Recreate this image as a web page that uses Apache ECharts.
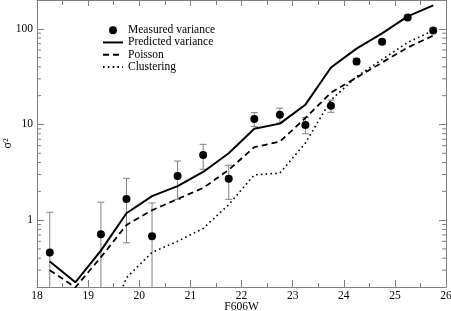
<!DOCTYPE html>
<html>
<head>
<meta charset="utf-8">
<script src="https://cdn.jsdelivr.net/npm/echarts@6/dist/echarts.min.js"></script>
<style>
html,body{margin:0;padding:0;background:#fff;}
#chart{width:451px;height:311px;}
</style>
</head>
<body>
<div id="chart"></div>
<script>
// ---- data ----
const modelX = [18.25, 18.75, 19.25, 19.75, 20.25, 20.75, 21.25, 21.75, 22.25, 22.75, 23.25, 23.75, 24.25, 24.75, 25.25, 25.75];
const predicted = [0.37, 0.224, 0.48, 1.18, 1.78, 2.27, 3.19, 5.0, 9.0, 10.2, 16.1, 39.4, 62, 89.6, 135, 176];
const poisson = [0.30, 0.198, 0.41, 0.89, 1.27, 1.66, 2.17, 3.35, 5.8, 6.6, 11.7, 21.5, 30.9, 44.4, 63.7, 85];
const clustering = [null, null, 0.05, 0.25, 0.46, 0.6, 0.82, 1.45, 2.97, 3.1, 6.4, 18, 31.6, 47.7, 72, 96];

const measuredX = [18.25, 19.25, 19.75, 20.25, 20.75, 21.25, 21.75, 22.25, 22.75, 23.25, 23.75, 24.25, 24.75, 25.25, 25.75];
const measured = [0.46, 0.71, 1.66, 0.68, 2.9, 4.8, 2.7, 11.4, 12.6, 9.9, 15.7, 45.6, 73, 131, 96];
const measuredErr = [0.75, 0.83, 1.08, 0.83, 1.25, 1.4, 1.05, 1.9, 2.2, 1.9, 2.3, 3.5, 4, 5, 5];

const minorTickValues = [0.3, 0.4, 0.5, 0.6, 0.7, 0.8, 0.9, 2, 3, 4, 5, 6, 7, 8, 9, 20, 30, 40, 50, 60, 70, 80, 90];

const X_MIN = 18, X_MAX = 26, Y_MIN = 0.2, Y_MAX = 200;
const SERIF = 'Liberation Serif';
const AXIS_GREY = '#808080';

const pair = (xs, ys) => xs.map((x, i) => [x, ys[i] == null ? '-' : ys[i]]);

const chart = echarts.init(document.getElementById('chart'), null, {renderer: 'canvas'});

const hiddenSym = {opacity: 0, borderWidth: 0};

const option = {
  animation: false,
  backgroundColor: '#fff',
  grid: {left: 37, right: 5, top: 0, bottom: 24, containLabel: false, outerBoundsMode: 'none'},
  legend: {
    orient: 'vertical',
    left: 97,
    top: 19,
    itemWidth: 20,
    itemHeight: 8,
    itemGap: 0,
    data: [
      {name: 'Measured variance', itemStyle: {opacity: 1}},
      {name: 'Predicted variance', itemStyle: hiddenSym},
      {name: 'Poisson', itemStyle: hiddenSym},
      {name: 'Clustering', itemStyle: hiddenSym}
    ],
    textStyle: {fontFamily: SERIF, fontSize: 11.5, color: '#000', lineHeight: 12.3},
    selectedMode: false
  },
  xAxis: [{
    type: 'value', position: 'bottom', min: X_MIN, max: X_MAX, interval: 1,
    name: 'F606W', nameLocation: 'middle', nameGap: 14, nameMoveOverlap: false,
    nameTextStyle: {fontFamily: SERIF, fontSize: 11.5, color: '#000'},
    axisLine: {show: true, lineStyle: {color: AXIS_GREY, width: 1}},
    axisTick: {show: true, inside: true, length: 7, lineStyle: {color: AXIS_GREY}},
    minorTick: {show: true, splitNumber: 2, length: 4, lineStyle: {color: AXIS_GREY}},
    axisLabel: {fontFamily: SERIF, fontSize: 11.5, color: '#000', margin: 3},
    splitLine: {show: false}
  }, {
    type: 'value', position: 'top', min: X_MIN, max: X_MAX, interval: 1,
    axisLine: {show: true, lineStyle: {color: AXIS_GREY, width: 1}},
    axisTick: {show: true, inside: true, length: 6, lineStyle: {color: AXIS_GREY}},
    minorTick: {show: true, splitNumber: 2, length: 5, lineStyle: {color: AXIS_GREY}},
    axisLabel: {show: false},
    splitLine: {show: false}
  }],
  yAxis: [{
    type: 'log', logBase: 10, position: 'left', min: Y_MIN, max: Y_MAX,
    name: 'σ²', nameLocation: 'middle', nameGap: 23, nameRotate: 90, nameMoveOverlap: false,
    nameTextStyle: {fontFamily: SERIF, fontSize: 12, color: '#000'},
    axisLine: {show: true, lineStyle: {color: AXIS_GREY, width: 1}},
    axisTick: {show: true, inside: true, length: 7, lineStyle: {color: AXIS_GREY}},
    axisLabel: {
      fontFamily: SERIF, fontSize: 11.5, color: '#000', margin: 4,
      showMinLabel: false, showMaxLabel: false,
      formatter: v => {
        const l = Math.log10(v);
        return Math.abs(l - Math.round(l)) < 1e-6 ? String(Math.round(v)) : '';
      }
    },
    splitLine: {show: false}
  }, {
    type: 'log', logBase: 10, position: 'right', min: Y_MIN, max: Y_MAX,
    axisLine: {show: true, lineStyle: {color: AXIS_GREY, width: 1}},
    axisTick: {show: true, inside: true, length: 7, lineStyle: {color: AXIS_GREY}},
    axisLabel: {show: false},
    splitLine: {show: false}
  }],
  series: [
    {
      name: 'Measured variance', type: 'scatter', xAxisIndex: 0, yAxisIndex: 0,
      data: pair(measuredX, measured), symbol: 'circle', symbolSize: 8,
      itemStyle: {color: '#000', opacity: 1}, z: 5
    },
    {
      name: 'Predicted variance', type: 'line', xAxisIndex: 0, yAxisIndex: 0,
      data: pair(modelX, predicted), showSymbol: false, symbol: 'none',
      lineStyle: {color: '#000', width: 2}, itemStyle: {color: '#000'}, clip: true, z: 4
    },
    {
      name: 'Poisson', type: 'line', xAxisIndex: 0, yAxisIndex: 0,
      data: pair(modelX, poisson), showSymbol: false, symbol: 'none',
      lineStyle: {color: '#000', width: 1.8, type: [6, 4]}, itemStyle: {color: '#000'}, clip: true, z: 4
    },
    {
      name: 'Clustering', type: 'line', xAxisIndex: 0, yAxisIndex: 0,
      data: pair(modelX, clustering), showSymbol: false, symbol: 'none', connectNulls: false,
      lineStyle: {color: '#000', width: 1.6, type: [1.6, 3.2]}, itemStyle: {color: '#000'}, clip: true, z: 4
    },
    {
      name: 'errorbars', type: 'custom', xAxisIndex: 0, yAxisIndex: 0, clip: true, silent: true, z: 3,
      data: measuredX.map((x, i) => [x, measured[i], measuredErr[i]]),
      encode: {x: 0, y: 1},
      renderItem: (params, api) => {
        const x = api.value(0), v = api.value(1), e = api.value(2);
        const cs = params.coordSys;
        const hi = v + e, lo = v - e;
        const pHi = api.coord([x, hi]);
        const bottom = cs.y + cs.height;
        const pLo = lo > Y_MIN ? api.coord([x, lo]) : [pHi[0], bottom];
        const cap = 3.5;
        const style = {stroke: AXIS_GREY, lineWidth: 1};
        const children = [
          {type: 'line', shape: {x1: pHi[0], y1: pHi[1], x2: pLo[0], y2: pLo[1]}, style}
        ];
        if (pHi[1] >= cs.y) children.push({type: 'line', shape: {x1: pHi[0] - cap, y1: pHi[1], x2: pHi[0] + cap, y2: pHi[1]}, style});
        if (lo > Y_MIN) children.push({type: 'line', shape: {x1: pLo[0] - cap, y1: pLo[1], x2: pLo[0] + cap, y2: pLo[1]}, style});
        return {type: 'group', children};
      }
    },
    {
      name: 'minorticks', type: 'custom', xAxisIndex: 0, yAxisIndex: 0, silent: true, z: 2,
      data: minorTickValues.map(v => [X_MIN, v]),
      encode: {x: 0, y: 1},
      renderItem: (params, api) => {
        const cs = params.coordSys;
        const p = api.coord([X_MIN, api.value(1)]);
        const xl = cs.x, xr = cs.x + cs.width;
        const style = {stroke: AXIS_GREY, lineWidth: 1};
        return {type: 'group', children: [
          {type: 'line', shape: {x1: xl, y1: p[1], x2: xl + 4, y2: p[1]}, style},
          {type: 'line', shape: {x1: xr - 4, y1: p[1], x2: xr, y2: p[1]}, style}
        ]};
      }
    }
  ]
};
chart.setOption(option);
</script>
</body>
</html>
